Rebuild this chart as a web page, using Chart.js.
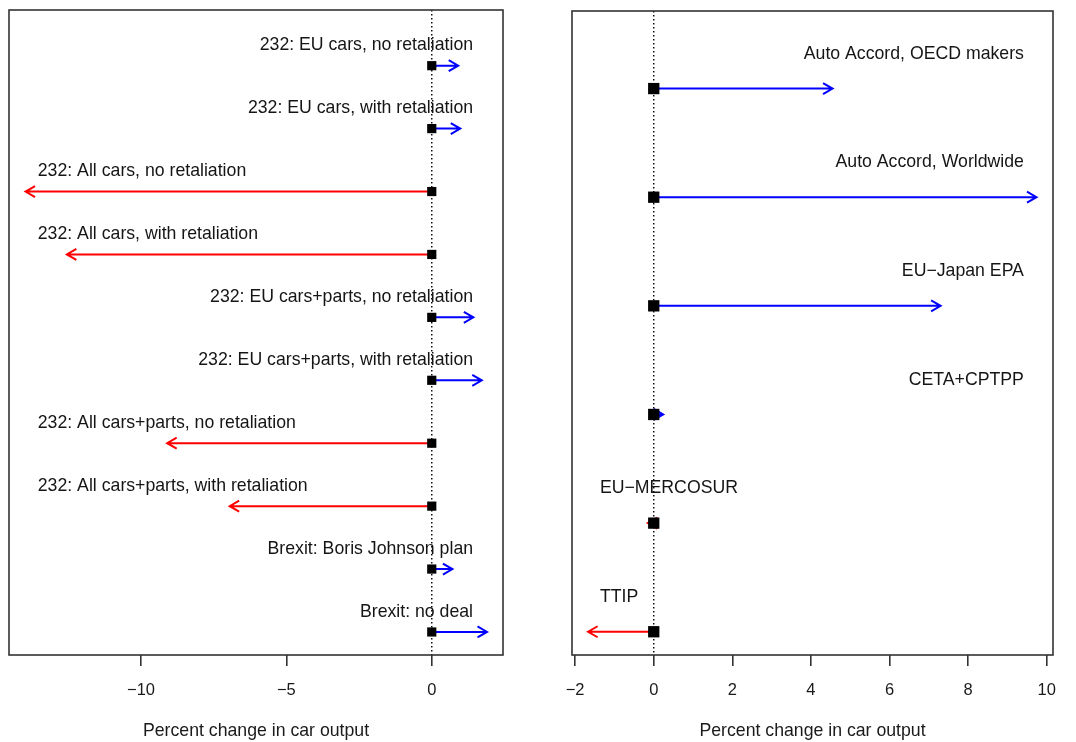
<!DOCTYPE html>
<html>
<head>
<meta charset="utf-8">
<script src="https://cdn.jsdelivr.net/npm/chart.js@4"></script>
<style>
	body { margin: 0; background: #fff; width: 1076px; height: 742px; position: relative; overflow: hidden; }
	.panel { position: absolute; top: 0; width: 538px; height: 742px; }
</style>
</head>
<body>
<div class="panel" style="left:0"><canvas id="left" width="538" height="742"></canvas></div>
<div class="panel" style="left:538px"><canvas id="right" width="538" height="742"></canvas></div>
<script>
// ---------------------------------------- Data ----------------------------------------

const leftScenarios = [
	"232: EU cars, no retaliation",
	"232: EU cars, with retaliation",
	"232: All cars, no retaliation",
	"232: All cars, with retaliation",
	"232: EU cars+parts, no retaliation",
	"232: EU cars+parts, with retaliation",
	"232: All cars+parts, no retaliation",
	"232: All cars+parts, with retaliation",
	"Brexit: Boris Johnson plan",
	"Brexit: no deal",
];
const leftChange = [0.91, 0.98, -13.97, -12.55, 1.43, 1.72, -9.1, -6.95, 0.71, 1.9];
const leftTicks = [-10, -5, 0];

const rightScenarios = [
	"Auto Accord, OECD makers",
	"Auto Accord, Worldwide",
	"EU\u2212Japan EPA",
	"CETA+CPTPP",
	"EU\u2212MERCOSUR",
	"TTIP",
];
const rightChange = [4.55, 9.74, 7.3, 0.24, -0.15, -1.67];
const rightTicks = [-2, 0, 2, 4, 6, 8, 10];

const axisTitle = "Percent change in car output";

const FONT = "'Liberation Sans', Arial, sans-serif";
const BLUE = "#0000ff";
const RED = "#ff0000";

// ---------------------------------------- Plugins ----------------------------------------

const arrowPlugin = {
	id: "arrows",
	beforeDatasetsDraw(chart, args, opts) {
		const { ctx, chartArea: a } = chart;
		const x = chart.scales.x;
		const y = chart.scales.y;
		const x0 = x.getPixelForValue(0);

		ctx.save();
		// dotted zero line
		ctx.setLineDash([1.5, 2.5]);
		ctx.strokeStyle = "#000";
		ctx.lineWidth = 1.4;
		ctx.beginPath();
		ctx.moveTo(x0, a.top);
		ctx.lineTo(x0, a.bottom);
		ctx.stroke();
		ctx.setLineDash([]);

		const n = opts.values.length;
		opts.values.forEach((v, i) => {
			const row = n - i;
			const yy = y.getPixelForValue(row);
			const xx = x.getPixelForValue(v);
			const dir = v < 0 ? -1 : 1;

			ctx.strokeStyle = v < 0 ? RED : BLUE;
			ctx.lineWidth = 2;
			ctx.beginPath();
			ctx.moveTo(x0, yy);
			ctx.lineTo(xx, yy);
			ctx.moveTo(xx - dir * 9.5, yy - 5.5);
			ctx.lineTo(xx, yy);
			ctx.lineTo(xx - dir * 9.5, yy + 5.5);
			ctx.stroke();

			// scenario label
			ctx.fillStyle = "#151515";
			ctx.font = "17.7px " + FONT;
			ctx.textBaseline = "middle";
			const ty = y.getPixelForValue(row + 0.32);
			if (v < 0) {
				ctx.textAlign = "left";
				ctx.fillText(opts.labels[i], x.getPixelForValue(opts.labelLeft), ty);
			} else {
				ctx.textAlign = "right";
				ctx.fillText(opts.labels[i], x.getPixelForValue(opts.labelRight), ty);
			}
		});
		ctx.restore();
	},
	afterDraw(chart) {
		const { ctx, chartArea: a } = chart;
		ctx.save();
		ctx.strokeStyle = "#333";
		ctx.lineWidth = 1.6;
		ctx.strokeRect(a.left, a.top, a.right - a.left, a.bottom - a.top);
		ctx.restore();
	},
};

// ---------------------------------------- Panels ----------------------------------------

function buildPanel(id, labels, values, ticks, cfg) {
	const n = values.length;
	return new Chart(document.getElementById(id), {
		type: "scatter",
		data: {
			datasets: [
				{
					data: values.map((v, i) => ({ x: 0, y: n - i })),
					pointStyle: "rect",
					pointRadius: cfg.pointRadius,
					pointHoverRadius: cfg.pointRadius,
					backgroundColor: "#000",
					borderWidth: 0,
				},
			],
		},
		options: {
			responsive: false,
			animation: false,
			devicePixelRatio: 1,
			layout: { padding: cfg.padding },
			plugins: {
				legend: { display: false },
				tooltip: { enabled: false },
				arrows: {
					values: values,
					labels: labels,
					labelLeft: cfg.labelLeft,
					labelRight: cfg.labelRight,
				},
			},
			scales: {
				x: {
					type: "linear",
					min: cfg.xMin,
					max: cfg.xMax,
					afterBuildTicks: (s) => {
						s.ticks = ticks.map((v) => ({ value: v }));
					},
					afterFit: (s) => {
						s.height = 87;
					},
					border: { display: false },
					grid: {
						drawOnChartArea: false,
						drawTicks: true,
						tickLength: 11,
						color: "#333",
						lineWidth: 1.6,
					},
					ticks: {
						padding: 15,
						maxRotation: 0,
						autoSkip: false,
						color: "#1a1a1a",
						font: { family: FONT, size: 16.5 },
						callback: (v) => String(v).replace("-", "\u2212"),
					},
					title: {
						display: true,
						text: axisTitle,
						color: "#1a1a1a",
						font: { family: FONT, size: 17.7 },
						padding: { top: 0, bottom: 0 },
					},
				},
				y: {
					display: false,
					min: cfg.yMin,
					max: cfg.yMax,
				},
			},
		},
		plugins: [arrowPlugin],
	});
}

buildPanel("left", leftScenarios, leftChange, leftTicks, {
	xMin: -14.54,
	xMax: 2.45,
	yMin: 0.634,
	yMax: 10.885,
	padding: { left: 9, right: 35, top: 10, bottom: 0 },
	pointRadius: 6.5,
	labelLeft: -13.55,
	labelRight: 1.42,
});

buildPanel("right", rightScenarios, rightChange, rightTicks, {
	xMin: -2.08,
	xMax: 10.16,
	yMin: 0.786,
	yMax: 6.714,
	padding: { left: 34, right: 23, top: 11, bottom: 0 },
	pointRadius: 8,
	labelLeft: -1.37,
	labelRight: 9.42,
});
</script>
</body>
</html>
